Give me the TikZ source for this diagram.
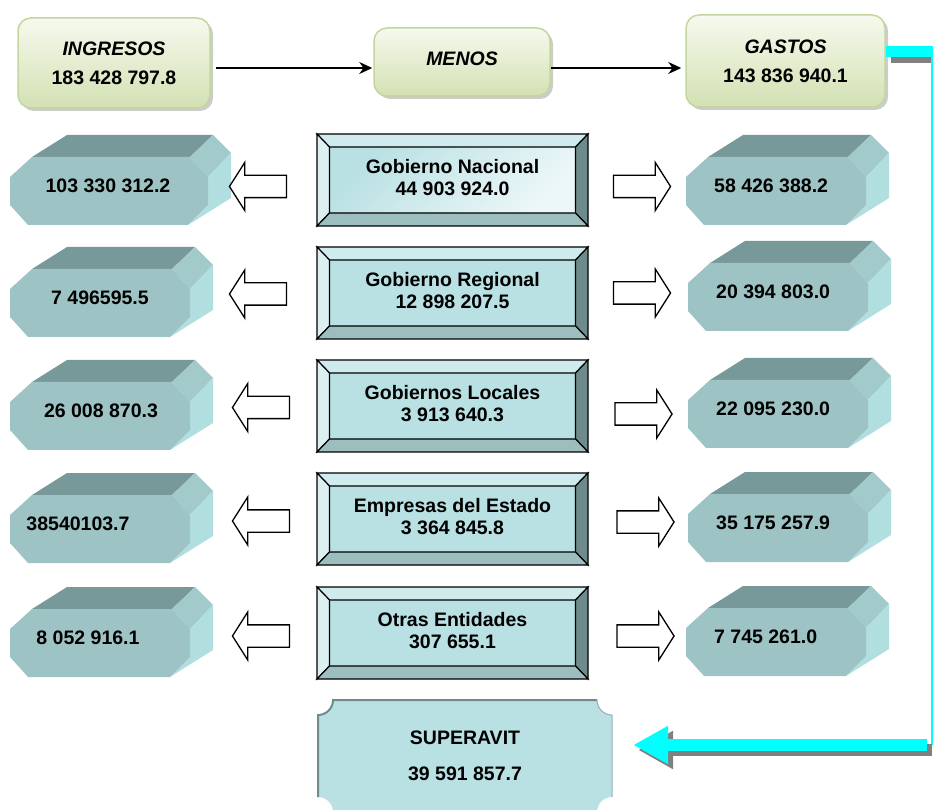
\documentclass[tikz,border=0pt]{standalone}
\usepackage{fontspec}
\setmainfont{Liberation Sans}
\usetikzlibrary{arrows.meta,shapes.arrows,shadows}
\definecolor{boxgreen}{HTML}{D3E1B3}
\definecolor{boxgreenlt}{HTML}{F6F9EE}
\definecolor{boxedge}{HTML}{C3D69B}
\definecolor{prismfront}{HTML}{9DC3C5}
\definecolor{prismtop}{HTML}{789999}
\definecolor{prismfacet}{HTML}{A3CACB}
\definecolor{prismside}{HTML}{B1DFE0}
\definecolor{bevelface}{HTML}{B9E0E3}
\definecolor{bevelfacelt}{HTML}{ECF7F8}
\definecolor{bevellight}{HTML}{CFEBED}
\definecolor{bevelleft}{HTML}{DCF0F2}
\definecolor{beveldark}{HTML}{6E8B8B}
\definecolor{bevelbottom}{HTML}{9DBEBF}
\definecolor{plaqueedge}{HTML}{6F8B8B}
\definecolor{linkcyan}{HTML}{00FFFF}
\definecolor{linkshadow}{HTML}{808080}

\tikzset{
  topbox/.style={rounded corners=13pt, draw=boxedge, line width=1.5pt,
    top color=boxgreenlt, bottom color=boxgreen, align=center,
    font=\fontsize{19.5}{29}\selectfont\bfseries,
    drop shadow={shadow xshift=3pt, shadow yshift=-3pt, fill=black!40, opacity=0.5}},
  flowarrow/.style={-{Stealth[length=13pt,width=12pt]}, line width=1.4pt},
  amount/.style={font=\fontsize{19.5}{22}\selectfont\bfseries, align=center, inner sep=0pt},
  bevel/.style={draw=black, line width=1.2pt, line join=miter},
  gradface/.style={shading=axis, top color=bevelface, bottom color=bevelfacelt, shading angle=45},
  flatface/.style={fill=bevelface},
  hollowarrow/.style={single arrow, draw=black, fill=white, line width=1.3pt,
    minimum height=57pt, inner xsep=0pt, inner ysep=10.5pt, single arrow head extend=13pt,
    single arrow tip angle=115},
  cyanbar/.style={linkcyan, line width=11pt},
  barshadow/.style={linkshadow, line width=11pt},
  cyanarrow/.style={line width=12pt, -{Triangle[length=35pt,width=36pt]}, shorten >=21pt}
}

\begin{document}
\begin{tikzpicture}[x=1pt, y=1pt, font=\bfseries]
\useasboundingbox (0,0) rectangle (933,809);

% Top row
\node[topbox, minimum width=192pt, minimum height=90pt] (ingresos) at (114,746) {\textit{INGRESOS}\\183 428 797.8};
\node[topbox, minimum width=176pt, minimum height=68pt] (menos) at (462,747) {\raisebox{7pt}{\textit{MENOS}}};
\node[topbox, minimum width=199pt, minimum height=92pt] (gastos) at (785.5,748) {\textit{GASTOS}\\143 836 940.1};

\draw[flowarrow, shorten <=5pt, shorten >=1pt] ([yshift=-5pt]ingresos.east) -- ([yshift=-6pt]menos.west);
\draw[flowarrow, shorten >=4pt] ([yshift=-6pt]menos.east) -- ([yshift=-7pt]gastos.west);

% Sectors
\foreach \i/\yy/\face/\unit/\amt in {1/629/gradface/Gobierno Nacional/44 903 924.0,
    2/516/flatface/Gobierno Regional/12 898 207.5, 3/403/flatface/Gobiernos Locales/3 913 640.3,
    4/290/flatface/Empresas del Estado/3 364 845.8, 5/176/flatface/Otras Entidades/307 655.1} {
  \begin{scope}[shift={(452.5,\yy)}]
    \fill[\face] (-123,33) rectangle (123,-33);
    \filldraw[bevel, fill=bevellight] (-135.5,46) -- (135.5,46) -- (123,33) -- (-123,33) -- cycle;
    \filldraw[bevel, fill=bevelleft] (-135.5,46) -- (-123,33) -- (-123,-33) -- (-135.5,-46) -- cycle;
    \filldraw[bevel, fill=beveldark] (135.5,46) -- (135.5,-46) -- (123,-33) -- (123,33) -- cycle;
    \filldraw[bevel, fill=bevelbottom] (-135.5,-46) -- (135.5,-46) -- (123,-33) -- (-123,-33) -- cycle;
    \node[amount] (c\i) at (0,2) {\unit\\\amt};
  \end{scope}
}

% Ingresos por sector
\foreach \i/\yf/\w/\tx/\amt in {1/652/198/98/103 330 312.2, 2/540/180/90/7 496595.5,
    3/427/180/91/26 008 870.3, 4/314/180/68/38540103.7, 5/200/180/78/8 052 916.1} {
  \begin{scope}[shift={(10,\yf)}]
    \fill[prismtop] (22,0) -- (57,22) -- (\w+5,22) -- (\w-18,0) -- cycle;
    \fill[prismfacet] (\w-18,0) -- (\w+5,22) -- (\w+23,4) -- (\w,-20) -- cycle;
    \fill[prismside] (\w,-20) -- (\w+23,4) -- (\w+23,-41) -- (\w-20,-68) -- (\w,-48) -- cycle;
    \fill[prismfront] (22,0) -- (\w-18,0) -- (\w,-20) -- (\w,-48) -- (\w-20,-68)
      -- (18,-68) -- (0,-48) -- (0,-20) -- cycle;
    \node[amount] (lp\i) at (\tx,-29) {\amt};
  \end{scope}
}

% Gastos por sector
\foreach \i/\xf/\yf/\amt in {1/686/652/58 426 388.2, 2/688/546/20 394 803.0,
    3/688/429/22 095 230.0, 4/688/315/35 175 257.9, 5/686/201/7 745 261.0} {
  \begin{scope}[shift={(\xf,\yf)}]
    \fill[prismtop] (22,0) -- (57,22) -- (185,22) -- (162,0) -- cycle;
    \fill[prismfacet] (162,0) -- (185,22) -- (203,4) -- (180,-20) -- cycle;
    \fill[prismside] (180,-20) -- (203,4) -- (203,-41) -- (160,-68) -- (180,-48) -- cycle;
    \fill[prismfront] (22,0) -- (162,0) -- (180,-20) -- (180,-48) -- (160,-68)
      -- (18,-68) -- (0,-48) -- (0,-20) -- cycle;
    \node[amount, anchor=west] (rp\i) at (28,-29) {\amt};
  \end{scope}
}

% Block arrows
\foreach \i/\lx/\ly/\rx/\ry in {1/261.5/622.5/638.5/622.5, 2/261.5/515/638.5/516,
    3/264.5/401.5/640/395, 4/264.5/288/642/287, 5/264.5/173/642/173} {
  \node[hollowarrow, shape border rotate=180] (la\i) at (\lx,\ly) {};
  \node[hollowarrow] (ra\i) at (\rx,\ry) {};
}

% Superavit
\fill[bevelface] (318,94) arc[start angle=270, end angle=360, radius=15pt] -- (597,109)
  arc[start angle=180, end angle=270, radius=15pt] -- (612,12)
  arc[start angle=90, end angle=180, radius=15pt] -- (333,-3)
  arc[start angle=0, end angle=90, radius=15pt] -- cycle;
\draw[plaqueedge, line width=2pt] (318,12) -- (318,94)
  arc[start angle=270, end angle=360, radius=15pt] -- (597,109);
\draw[plaqueedge!70, line width=1pt] (597,109) arc[start angle=180, end angle=270, radius=15pt] -- (612,12);
\node[font=\fontsize{19.5}{36}\selectfont\bfseries, align=center, minimum width=294pt,
  minimum height=112pt, inner sep=0pt] (superavit) at (465,53) {SUPERAVIT\\39 591 857.7};

% Link from gastos to superavit
\coordinate (linkout) at ([yshift=9.5pt]gastos.east);
\coordinate (linkright) at (932,763);
\coordinate (linkdown) at (932,64);
\coordinate (linkturn) at (927,64);
\draw[barshadow] ([shift={(5pt,-6pt)}]linkout) -- ++(60,0);
\draw[cyanbar] (linkout) -- ++(60,0);
\draw[linkcyan, line width=1.5pt] (linkright) -- (linkdown);
\draw[cyanarrow, linkshadow] ([shift={(5pt,-5pt)}]linkturn) -- ([shift={(5pt,-5pt)}]linkturn -| superavit.east);
\draw[cyanarrow, linkcyan] (linkturn) -- (linkturn -| superavit.east);

\end{tikzpicture}
\end{document}
